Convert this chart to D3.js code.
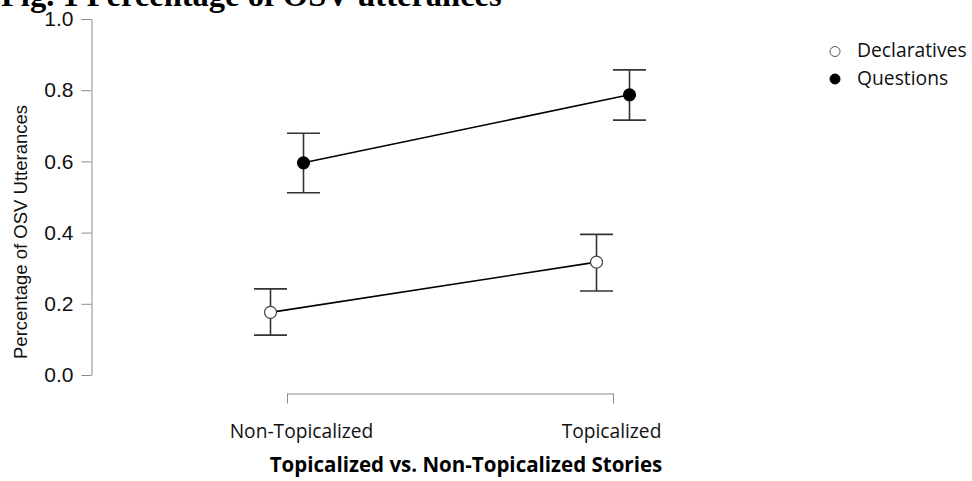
<!DOCTYPE html>
<html>
<head>
<meta charset="utf-8">
<script src="https://cdn.jsdelivr.net/npm/d3@7"></script>
<style>
  html, body { margin: 0; padding: 0; background: #fff; }
  svg { display: block; }
</style>
</head>
<body>
<script>
// values
const conditions = ["Non-Topicalized", "Topicalized"];
const seriesNames = ["Declaratives", "Questions"];
const declMean = [0.176, 0.317];
const declLower = [0.112, 0.236];
const declUpper = [0.242, 0.395];
const questMean = [0.596, 0.787];
const questLower = [0.512, 0.716];
const questUpper = [0.679, 0.857];
const yTicks = [0, 0.2, 0.4, 0.6, 0.8, 1.0];

const width = 972, height = 481;

const svg = d3.select("body")
  .append("svg")
  .attr("width", width)
  .attr("height", height);

const y = d3.scaleLinear().domain([0, 1]).range([375, 19]);
const x = d3.scalePoint().domain(conditions).range([287, 613]);
const dodge = d3.scalePoint().domain(seriesNames).range([-16.5, 16.5]);

// title, cut off at the top like the source
svg.append("text")
  .attr("x", 1)
  .attr("y", 6)
  .attr("font-family", "Liberation Serif, Times New Roman, serif")
  .attr("font-weight", "bold")
  .attr("font-size", 32.5)
  .attr("fill", "#000")
  .text("Fig. 1 Percentage of OSV utterances");

// y axis
const yAxis = svg.append("g")
  .attr("transform", "translate(91.5,0)")
  .call(d3.axisLeft(y).tickValues(yTicks).tickFormat(d3.format(".1f")).tickSize(10).tickSizeOuter(0).tickPadding(8));
yAxis.select(".domain").attr("stroke", "#8c8c8c");
yAxis.selectAll(".tick line").attr("stroke", "#8c8c8c");
yAxis.selectAll(".tick text")
  .attr("font-family", "Liberation Sans, Arial, sans-serif")
  .attr("font-size", 21)
  .attr("fill", "#111");

svg.append("text")
  .attr("transform", "translate(27,232) rotate(-90)")
  .attr("text-anchor", "middle")
  .attr("font-family", "Liberation Sans, Arial, sans-serif")
  .attr("font-size", 18.5)
  .attr("fill", "#111")
  .text("Percentage of OSV Utterances");

// x axis (bracket)
const labelNudge = [14, -2];
const xAxis = svg.append("g")
  .attr("transform", "translate(0,393.5)")
  .call(d3.axisBottom(x).tickSize(10).tickSizeOuter(0).tickPadding(21));
xAxis.select(".domain").attr("stroke", "#8c8c8c");
xAxis.selectAll(".tick line").attr("stroke", "#8c8c8c");
xAxis.selectAll(".tick text")
  .attr("dx", (d, i) => labelNudge[i])
  .attr("font-family", "Open Sans, sans-serif")
  .attr("font-size", 19.2)
  .attr("fill", "#111");

svg.append("text")
  .attr("x", 466)
  .attr("y", 472)
  .attr("text-anchor", "middle")
  .attr("font-family", "Open Sans, sans-serif")
  .attr("font-weight", "bold")
  .attr("font-size", 20.5)
  .attr("fill", "#000")
  .text("Topicalized vs. Non-Topicalized Stories");

// series
const series = [
  {name: "Declaratives", mean: declMean, lower: declLower, upper: declUpper, fill: "#fff"},
  {name: "Questions", mean: questMean, lower: questLower, upper: questUpper, fill: "#000"}
];

const lineGen = d3.line()
  .x(d => x(d.cond) + dodge(d.name))
  .y(d => y(d.mean));

series.forEach(s => {
  const pts = conditions.map((c, i) => ({cond: c, name: s.name, mean: s.mean[i], lower: s.lower[i], upper: s.upper[i]}));
  const g = svg.append("g");

  g.append("path")
    .attr("d", lineGen(pts))
    .attr("fill", "none")
    .attr("stroke", "#000")
    .attr("stroke-width", 1.6);

  const eb = g.selectAll(".eb")
    .data(pts)
    .enter()
      .append("g")
      .attr("class", "eb")
      .attr("stroke", "#333")
      .attr("stroke-width", 1.6);
  eb.append("line")
    .attr("x1", d => x(d.cond) + dodge(d.name))
    .attr("x2", d => x(d.cond) + dodge(d.name))
    .attr("y1", d => y(d.lower))
    .attr("y2", d => y(d.upper));
  eb.append("line")
    .attr("x1", d => x(d.cond) + dodge(d.name) - 16.5)
    .attr("x2", d => x(d.cond) + dodge(d.name) + 16.5)
    .attr("y1", d => y(d.upper))
    .attr("y2", d => y(d.upper));
  eb.append("line")
    .attr("x1", d => x(d.cond) + dodge(d.name) - 16.5)
    .attr("x2", d => x(d.cond) + dodge(d.name) + 16.5)
    .attr("y1", d => y(d.lower))
    .attr("y2", d => y(d.lower));

  g.selectAll("circle")
    .data(pts)
    .enter()
      .append("circle")
      .attr("cx", d => x(d.cond) + dodge(d.name))
      .attr("cy", d => y(d.mean))
      .attr("r", 6)
      .attr("fill", s.fill)
      .attr("stroke", s.name === "Questions" ? "#000" : "#444")
      .attr("stroke-width", 1.2);
});

// legend
const legend = svg.append("g")
  .selectAll("g")
  .data(series)
  .enter()
    .append("g")
    .attr("transform", (d, i) => `translate(835,${51.5 + i * 27.5})`);
legend.append("circle")
  .attr("r", 5)
  .attr("fill", d => d.fill)
  .attr("stroke", d => d.name === "Questions" ? "#000" : "#555")
  .attr("stroke-width", 1);
legend.append("text")
  .attr("x", 22)
  .attr("y", 5.5)
  .attr("font-family", "Open Sans, sans-serif")
  .attr("font-size", 19.3)
  .attr("fill", "#111")
  .text(d => d.name);
</script>
</body>
</html>
